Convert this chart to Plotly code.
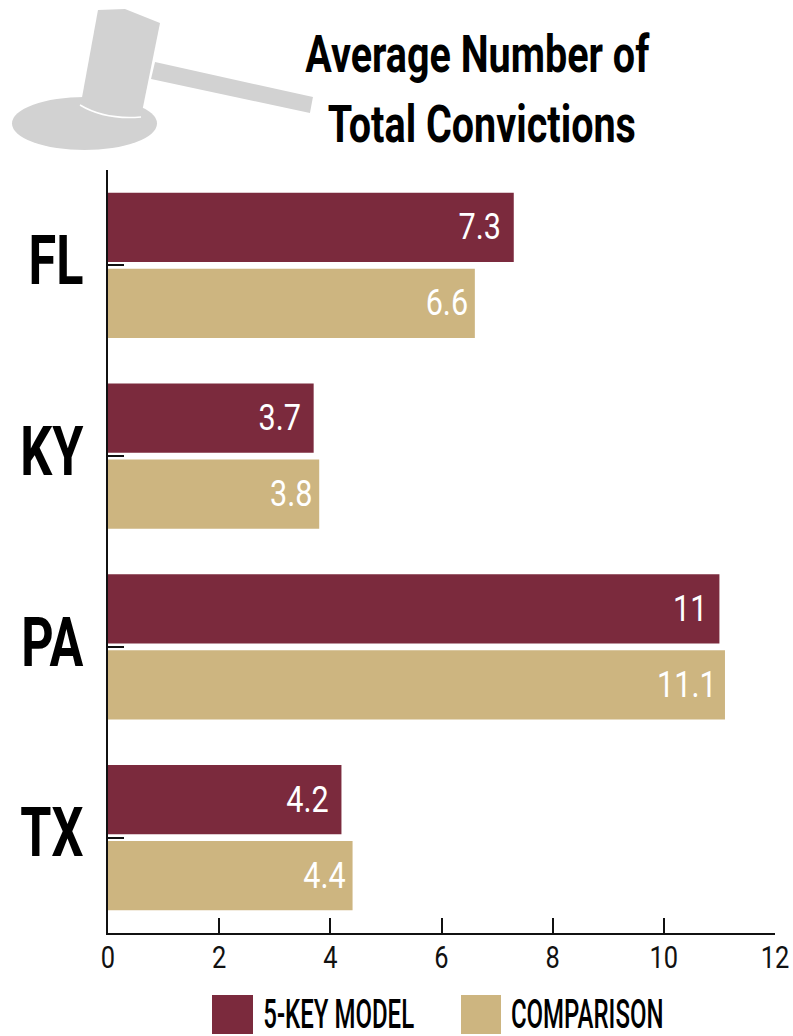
import plotly.graph_objects as go

categories = ["FL", "KY", "PA", "TX"]
model_values = [7.3, 3.7, 11, 4.2]
comparison_values = [6.6, 3.8, 11.1, 4.4]
x_ticks = [0, 2, 4, 6, 8, 10, 12]
series_names = ["5-KEY MODEL", "COMPARISON"]
title_lines = ["Average Number of", "Total Convictions"]

W, H = 793, 1036
L, R, T, B = 108, 775, 170, 933
MAROON, TAN, GREY = "#7b2a3d", "#cdb580", "#d2d2d2"
FONT = "Roboto"

def px(x): return (x - L) / (R - L)
def py(y): return 1 - (y - T) / (B - T)
def path(points):
    return "M " + " L ".join(f"{px(x):.4f},{py(y):.4f}" for x, y in points) + " Z"

fig = go.Figure()
for name, vals, col in [(series_names[0], model_values, MAROON), (series_names[1], comparison_values, TAN)]:
    fig.add_bar(y=categories, x=vals, name=name, orientation="h", marker=dict(color=col, line_width=0),
                text=[str(v) for v in vals], textposition="inside", insidetextanchor="end",
                textangle=0, constraintext="none",
                textfont=dict(family=FONT, size=36, color="white"), showlegend=False)

shapes = [
    dict(type="circle", xref="paper", yref="paper", x0=px(12), x1=px(157), y0=py(150), y1=py(97),
         fillcolor=GREY, line_width=0, layer="above"),
    dict(type="path", xref="paper", yref="paper",
         path=path([(155, 62), (313, 97), (310, 113), (151, 79)]),
         fillcolor=GREY, line_width=0, layer="above"),
    dict(type="path", xref="paper", yref="paper",
         path=path([(98, 10), (125, 9), (160, 23), (142, 112), (100, 112), (81, 103)]),
         fillcolor=GREY, line_width=0, layer="above"),
    dict(type="path", xref="paper", yref="paper",
         path=f"M {px(80):.4f},{py(105):.4f} Q {px(105):.4f},{py(120):.4f} {px(141):.4f},{py(117):.4f}",
         line=dict(color="white", width=1.5), layer="above"),
    dict(type="rect", xref="paper", yref="paper", x0=px(212), x1=px(253), y0=py(1034), y1=py(995),
         fillcolor=MAROON, line_width=0, layer="above"),
    dict(type="rect", xref="paper", yref="paper", x0=px(461), x1=px(501), y0=py(1034), y1=py(995),
         fillcolor=TAN, line_width=0, layer="above"),
]

def note(x, y, text, size, bold=False, weight="normal"):
    t = f"<b>{text}</b>" if bold else text
    return dict(xref="paper", yref="paper", x=px(x), y=py(y), text=t, showarrow=False, xanchor="center",
                yanchor="middle", font=dict(family=FONT, size=size, color="black", weight=weight))

annotations = [
    note(477, 55, title_lines[0], 52, bold=True),
    note(482, 124, title_lines[1], 52, bold=True),
    note(338, 1014, series_names[0], 40, weight=500),
    note(587, 1014, series_names[1], 40, weight=500),
]

fig.update_layout(
    width=W, height=H, autosize=False, paper_bgcolor="white", plot_bgcolor="white",
    margin=dict(l=L, r=W - R, t=T, b=H - B, pad=0, autoexpand=False),
    barmode="group", bargap=0.203, bargroupgap=0.092,
    shapes=shapes, annotations=annotations,
    xaxis=dict(range=[0, 12], tickvals=x_ticks, ticks="inside", ticklen=15, tickwidth=2, tickcolor="#111",
               showgrid=False, zeroline=False, showline=True, linecolor="#111", linewidth=2, automargin=False,
               ticklabelstandoff=0, tickfont=dict(family=FONT, size=31, color="#111")),
    yaxis=dict(categoryorder="array", categoryarray=categories, autorange="reversed", ticks="inside", ticklen=16,
               tickwidth=2, tickcolor="#111", showgrid=False, zeroline=False, showline=True, linecolor="#111",
               linewidth=2, automargin=False, ticklabelstandoff=9,
               tickfont=dict(family=FONT, size=68, color="black", weight="bold")),
)

# The reference uses a condensed typeface that is not installed: narrow the real text.
post = """
document.body.style.margin='0';
function sq(t,f){
  if(t.dataset.sq)return; t.dataset.sq=1;
  t.setAttribute('textLength',t.getComputedTextLength()*f);
  t.setAttribute('lengthAdjust','spacingAndGlyphs');
}
function squeeze(){
  document.querySelectorAll('.xtick text').forEach(function(t){
    if(!t.dataset.sq)t.setAttribute('dy','-4'); sq(t,0.82);});
  document.querySelectorAll('.ytick text').forEach(function(t){
    if(!t.dataset.sq)t.setAttribute('dy','-5'); sq(t,0.74);});
  document.querySelectorAll('.barlayer .trace').forEach(function(g,i){
    g.querySelectorAll('.bartext').forEach(function(t){
      if(!t.dataset.sq&&i==0)t.setAttribute('dx','-6'); sq(t,0.85);});});
  document.querySelectorAll('.annotation-text').forEach(function(t){
    sq(t,parseFloat(t.style.fontSize)>45?0.76:0.6);});
}
squeeze(); setTimeout(squeeze,50);
"""
fig.write_html("out.html", post_script=post, config={"displayModeBar": False})
